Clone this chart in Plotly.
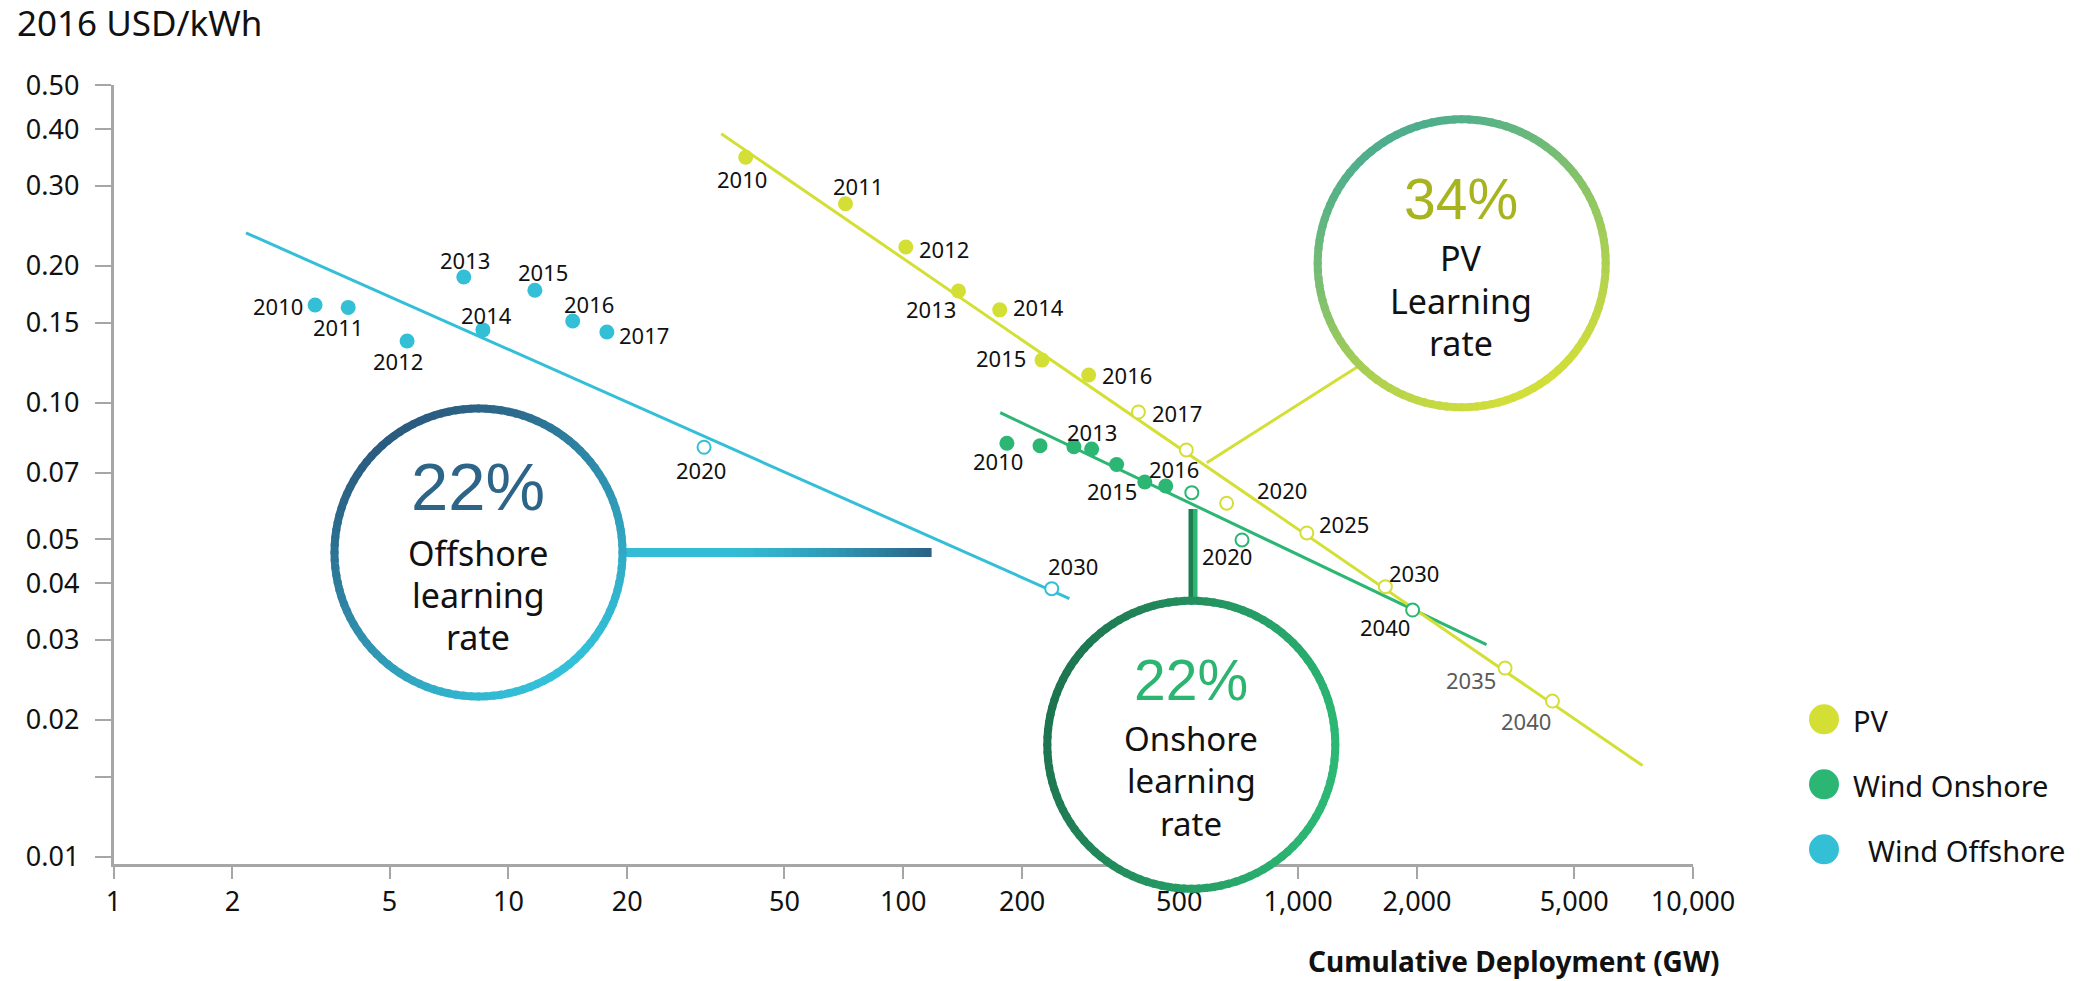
import math
import plotly.graph_objects as go

W, H = 2095, 981
PL, PR, PT, PB = 113.5, 1693.0, 85.0, 864.0

# ---------------- data ----------------
pv_years = ["2010", "2011", "2012", "2013", "2014", "2015", "2016"]
pv_x = [39.9, 71.4, 101.5, 138, 175.5, 224.6, 294.8]
pv_y = [0.347, 0.274, 0.220, 0.176, 0.160, 0.124, 0.115]
pv_proj_years = ["2017", "", "2020", "2025", "2030", "2035", "2040"]
pv_proj_x = [394, 521, 659, 1052, 1663, 3343, 4406]
pv_proj_y = [0.0953, 0.0786, 0.060, 0.0516, 0.0393, 0.026, 0.022]
pv_trend_x = [34.6, 7450]
pv_trend_y = [0.391, 0.01586]

on_years = ["2010", "", "", "2013", "", "2015", "2016"]
on_x = [183, 222, 270.5, 300, 347, 409, 462]
on_y = [0.0813, 0.0803, 0.0799, 0.0790, 0.0730, 0.0668, 0.0655]
on_proj_years = ["", "2020", "2040"]
on_proj_x = [538, 721, 1950]
on_proj_y = [0.0633, 0.0498, 0.0349]
on_trend_x = [176, 3000]
on_trend_y = [0.095, 0.0293]

off_years = ["2010", "2011", "2012", "2013", "2014", "2015", "2016", "2017"]
off_x = [3.24, 3.93, 5.54, 7.71, 8.62, 11.67, 14.55, 17.76]
off_y = [0.164, 0.162, 0.1366, 0.189, 0.1445, 0.1767, 0.1512, 0.143]
off_proj_years = ["2020", "2030"]
off_proj_x = [31.3, 237.7]
off_proj_y = [0.0797, 0.0389]
off_trend_x = [2.165, 263.5]
off_trend_y = [0.2364, 0.037]

x_tickvals = [1, 2, 5, 10, 20, 50, 100, 200, 500, 1000, 2000, 5000, 10000]
x_ticktext = ["1", "2", "5", "10", "20", "50", "100", "200", "500", "1,000", "2,000", "5,000", "10,000"]
y_tickvals = [0.5, 0.4, 0.3, 0.2, 0.15, 0.1, 0.07, 0.05, 0.04, 0.03, 0.02, 0.015, 0.01]
y_ticktext = ["0.50", "0.40", "0.30", "0.20", "0.15", "0.10", "0.07", "0.05", "0.04", "0.03", "0.02", "", "0.01"]

# ---------------- styles ----------------
PV_C = "#D4DF35"
ON_C = "#2BB673"
OFF_C = "#33BFD6"
FONT = "Noto Sans"
NARROW = "Liberation Sans Narrow, Liberation Sans, sans-serif"
TXT = "#111111"

# label offsets (dx, dy) in pixels, dy positive = down
pv_off = [(-4, 22), (13, -18), (38, 2), (-27, 18), (39, -3), (-41, -2), (38, 0)]
pv_proj_off = [(39, 1), (0, 0), (55, -13), (37, -9), (29, -14), (-34, 12), (-26, 20)]
pv_proj_col = [TXT, TXT, TXT, TXT, TXT, "#5A5A5A", "#5A5A5A"]
on_off = [(-9, 18), (0, 0), (0, 0), (0, -17), (0, 0), (-33, 9), (8, -17)]
on_proj_off = [(0, 0), (-15, 16), (-28, 17)]
off_off = [(-37, 1), (-10, 20), (-9, 20), (1, -17), (4, -15), (8, -18), (16, -17), (37, 3)]
off_proj_off = [(-3, 23), (21, -23)]


def px(x):
    return x / W


def py(y):
    return 1 - y / H


def hex2rgb(c):
    c = c.lstrip("#")
    return [int(c[i:i + 2], 16) for i in (0, 2, 4)]


def lerp(c0, c1, t):
    a, b = hex2rgb(c0), hex2rgb(c1)
    return "rgb(%d,%d,%d)" % tuple(round(a[i] + (b[i] - a[i]) * t) for i in range(3))


fig = go.Figure()

# trend lines
for tx, ty, c in [(off_trend_x, off_trend_y, OFF_C), (on_trend_x, on_trend_y, ON_C), (pv_trend_x, pv_trend_y, PV_C)]:
    fig.add_trace(go.Scatter(x=tx, y=ty, mode="lines", line=dict(color=c, width=3), hoverinfo="skip"))

# historic points
for xs, ys, c in [(off_x, off_y, OFF_C), (on_x, on_y, ON_C), (pv_x, pv_y, PV_C)]:
    fig.add_trace(go.Scatter(x=xs, y=ys, mode="markers", marker=dict(size=15, color=c, line=dict(width=0))))

# projections
for xs, ys, c in [(off_proj_x, off_proj_y, OFF_C), (on_proj_x, on_proj_y, ON_C), (pv_proj_x, pv_proj_y, PV_C)]:
    fig.add_trace(go.Scatter(x=xs, y=ys, mode="markers",
                             marker=dict(size=13, color="white", line=dict(width=2, color=c))))

annotations = []


def add_labels(years, xs, ys, offs, cols=None):
    for i, (yr, xv, yv, (dx, dy)) in enumerate(zip(years, xs, ys, offs)):
        if not yr:
            continue
        annotations.append(dict(x=math.log10(xv), y=math.log10(yv), xref="x", yref="y", text=yr,
                                showarrow=False, xshift=dx, yshift=-dy, xanchor="center", yanchor="middle",
                                font=dict(family=FONT, size=22, color=cols[i] if cols else TXT)))


add_labels(pv_years, pv_x, pv_y, pv_off)
add_labels(pv_proj_years, pv_proj_x, pv_proj_y, pv_proj_off, pv_proj_col)
add_labels(on_years, on_x, on_y, on_off)
add_labels(on_proj_years, on_proj_x, on_proj_y, on_proj_off)
add_labels(off_years, off_x, off_y, off_off)
add_labels(off_proj_years, off_proj_x, off_proj_y, off_proj_off)

shapes = []


def ring(cx, cy, r, c0, c1, d, width=8, n=120):
    dl = math.hypot(*d)
    dx, dy = d[0] / dl, d[1] / dl
    shapes.append(dict(type="circle", xref="paper", yref="paper", x0=px(cx - r), x1=px(cx + r),
                       y0=py(cy + r), y1=py(cy - r), fillcolor="white", line=dict(width=0), layer="above"))
    for i in range(n):
        a0 = 2 * math.pi * (i - 0.2) / n
        a1 = 2 * math.pi * (i + 1.2) / n
        am = 2 * math.pi * (i + 0.5) / n
        t = (math.cos(am) * dx + math.sin(am) * dy + 1) / 2
        pts = [(cx + r * math.cos(a), cy + r * math.sin(a)) for a in (a0, (a0 + a1) / 2, a1)]
        path = "M " + " L ".join("%.5f,%.5f" % (px(x), py(y)) for x, y in pts)
        shapes.append(dict(type="path", xref="paper", yref="paper", path=path,
                           line=dict(color=lerp(c0, c1, t), width=width), layer="above"))


# connectors
shapes.append(dict(type="line", xref="paper", yref="paper", x0=px(1206.8), y0=py(462.7), x1=px(1358), y1=py(366.5),
                   line=dict(color=PV_C, width=3), layer="above"))
nb = 40
for i in range(nb):
    s = i / nb
    t = max(0.0, (s - 0.35) / 0.65)
    x0 = 622 + (931.6 - 622) * s
    x1 = 622 + (931.6 - 622) * (i + 1.3) / nb
    shapes.append(dict(type="rect", xref="paper", yref="paper", x0=px(x0), x1=px(min(x1, 931.6)),
                       y0=py(557), y1=py(548), fillcolor=lerp("#33BCD5", "#2A5E82", t ** 1.3),
                       line=dict(width=0), layer="above"))
shapes.append(dict(type="rect", xref="paper", yref="paper", x0=px(1188.5), x1=px(1193.2), y0=py(600), y1=py(509),
                   fillcolor="#1E7C53", line=dict(width=0), layer="above"))
shapes.append(dict(type="rect", xref="paper", yref="paper", x0=px(1193), x1=px(1197.5), y0=py(600), y1=py(509),
                   fillcolor="#2BB673", line=dict(width=0), layer="above"))

# bubbles
ring(1461.7, 263.3, 144, "#4DAE8D", "#D2DE3A", (0.45, 0.9))
ring(478.5, 552.5, 144, "#2A5C80", "#33C0D8", (0.55, 0.85))
ring(1191.3, 744.7, 144, "#1D7550", "#2CB874", (1, 0.25))


def text(x, y, s, size, color=TXT, family=FONT, xanchor="center", bold=False):
    annotations.append(dict(x=px(x), y=py(y), xref="paper", yref="paper", text=("<b>%s</b>" % s) if bold else s,
                            showarrow=False, xanchor=xanchor, yanchor="middle",
                            font=dict(family=family, size=size, color=color)))


text(1461, 199, "34%", 57, "#A8B41F", NARROW)
text(1461, 258, "PV", 34)
text(1461, 301, "Learning", 34)
text(1461, 343, "rate", 34)

text(478, 487, "22%", 67, "#2C6587", NARROW)
text(478, 553, "Offshore", 34)
text(478, 595, "learning", 34)
text(478, 637, "rate", 34)

text(1191, 680, "22%", 57, "#2CB571", NARROW)
text(1191, 738, "Onshore", 33)
text(1191, 780, "learning", 33)
text(1191, 823, "rate", 33)

# axis titles
text(15, 23, "2016 USD/kWh", 35, TXT, FONT, "left")
text(1306, 961, "Cumulative Deployment (GW)", 28, TXT, FONT, "left", bold=True)

# legend
for yy, lab, c, lx in [(719.3, "PV", PV_C, 1851), (784.3, "Wind Onshore", ON_C, 1851), (849.3, "Wind Offshore", OFF_C, 1866)]:
    shapes.append(dict(type="circle", xref="paper", yref="paper", x0=px(1809), x1=px(1839), y0=py(yy + 15),
                       y1=py(yy - 15), fillcolor=c, line=dict(width=0), layer="above"))
    text(lx, yy + 1, lab, 29, TXT, FONT, "left")

ylo = -1 - (PB - 402.5) / 454
yhi = -1 - (PT - 402.5) / 454

fig.update_layout(
    width=W, height=H, margin=dict(l=0, r=0, t=0, b=0), autosize=False,
    plot_bgcolor="white", paper_bgcolor="white", showlegend=False,
    xaxis=dict(type="log", range=[0, 4], domain=[PL / W, PR / W], showline=True, linecolor="#A6A6A6", linewidth=2.5,
               ticks="outside", ticklen=12, tickcolor="#A6A6A6", tickwidth=1.5, tickvals=x_tickvals,
               ticktext=x_ticktext, showgrid=False, zeroline=False, automargin=False,
               tickfont=dict(family=FONT, size=27, color=TXT)),
    yaxis=dict(type="log", range=[ylo, yhi], domain=[1 - PB / H, 1 - PT / H], showline=True, linecolor="#A6A6A6",
               linewidth=2.5, ticks="outside", ticklen=16, tickcolor="#A6A6A6", tickwidth=1.5, tickvals=y_tickvals,
               ticktext=y_ticktext, showgrid=False, zeroline=False, automargin=False, ticklabelstandoff=10,
               tickfont=dict(family=FONT, size=27, color=TXT)),
    shapes=shapes, annotations=annotations,
)

fig.write_html("out.html")
